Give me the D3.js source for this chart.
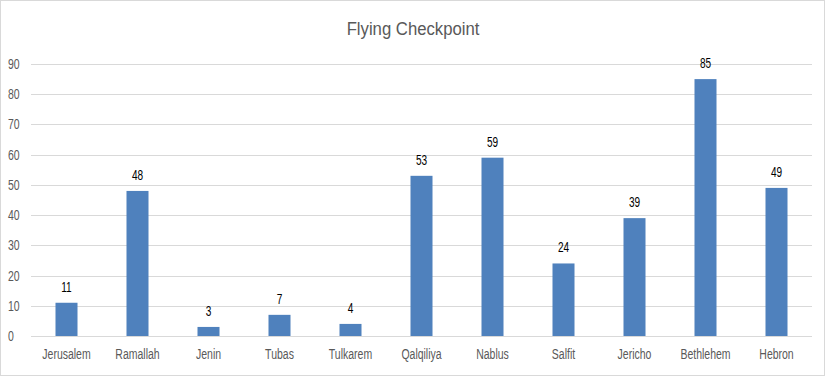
<!DOCTYPE html>
<meta charset="utf-8">
<style>
body { margin: 0; background: #fff; }
text { font-family: "Liberation Sans Narrow", "Liberation Sans", sans-serif; }
.title { fill: #595959; font-size: 19px; }
.axis text { fill: #595959; font-size: 14px; }
.axis path { display: none; }
.grid line { stroke: #d9d9d9; stroke-width: 1; }
.bar { fill: #4f81bd; }
.label { fill: #000; font-size: 14px; }
</style>
<svg width="825" height="376"></svg>
<script src="https://d3js.org/d3.v7.min.js"></script>
<script>

var categories = ["Jerusalem", "Ramallah", "Jenin", "Tubas", "Tulkarem", "Qalqiliya", "Nablus", "Salfit", "Jericho", "Bethlehem", "Hebron"];
var values = [11, 48, 3, 7, 4, 53, 59, 24, 39, 85, 49];
var yTicks = [0, 10, 20, 30, 40, 50, 60, 70, 80, 90];

var squeeze = 0.75; // condensed look of the original font

var svg = d3.select("svg"),
    margin = {top: 64, right: 13, bottom: 40, left: 31},
    width = +svg.attr("width") - margin.left - margin.right,
    height = +svg.attr("height") - margin.top - margin.bottom;

// chart frame
svg.append("rect")
    .attr("x", 0.5).attr("y", 0.5)
    .attr("width", 824).attr("height", 375)
    .attr("fill", "none")
    .attr("stroke", "#d9d9d9");

svg.append("text")
    .attr("class", "title")
    .attr("text-anchor", "middle")
    .attr("transform", "translate(413,35) scale(0.88,1)")
    .text("Flying Checkpoint");

var x = d3.scaleBand().domain(categories).range([0, width]).paddingInner(0.69).paddingOuter(0.345),
    y = d3.scaleLinear().domain([0, 90]).range([height, 0]);

var g = svg.append("g")
    .attr("transform", "translate(" + margin.left + "," + margin.top + ")");

g.append("g")
    .attr("class", "grid")
  .selectAll("line")
  .data(yTicks)
  .enter().append("line")
    .attr("x1", 0)
    .attr("x2", width)
    .attr("y1", function(d) { return Math.round(y(d)) + 0.5; })
    .attr("y2", function(d) { return Math.round(y(d)) + 0.5; });

g.append("g")
    .attr("class", "axis axis--y")
    .call(d3.axisLeft(y).tickValues(yTicks).tickSize(0))
  .selectAll("text")
    .attr("text-anchor", "start")
    .attr("x", -23 / squeeze)
    .attr("transform", "scale(" + squeeze + ",1)");

g.append("g")
    .attr("class", "axis axis--x")
    .attr("transform", "translate(0," + height + ")")
    .call(d3.axisBottom(x).tickSize(0).tickPadding(13))
  .selectAll("text")
    .attr("transform", "scale(" + squeeze + ",1)");

g.selectAll(".bar")
  .data(values)
  .enter().append("rect")
    .attr("class", "bar")
    .attr("x", function(d, i) { return x(categories[i]); })
    .attr("y", function(d) { return y(d); })
    .attr("width", x.bandwidth())
    .attr("height", function(d) { return height - y(d); });

g.selectAll(".label")
  .data(values)
  .enter().append("text")
    .attr("class", "label")
    .attr("text-anchor", "middle")
    .attr("transform", function(d, i) {
      return "translate(" + (x(categories[i]) + x.bandwidth() / 2) + "," + (y(d) - 11) + ") scale(0.72,1)";
    })
    .text(function(d) { return d; });

</script>
